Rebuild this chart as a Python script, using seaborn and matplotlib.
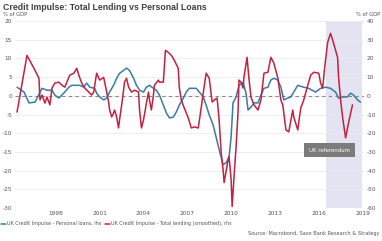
import matplotlib
matplotlib.use("Agg")
import matplotlib.pyplot as plt
import seaborn as sns
import pandas as pd
from matplotlib.lines import Line2D

# ---- data (decimal year, value) ----
personal_years = [1995.34, 1995.82, 1996.16, 1996.57, 1997.05, 1997.39, 1997.73, 1997.93, 1998.20, 1998.41,
                  1998.61, 1998.89, 1999.09, 1999.64, 1999.91, 2000.11, 2000.32, 2000.66, 2000.79, 2001.00,
                  2001.27, 2001.48, 2001.68, 2001.95, 2002.16, 2002.36, 2002.64, 2002.84, 2003.04, 2003.32,
                  2003.52, 2003.73, 2004.00, 2004.20, 2004.41, 2004.68, 2004.88, 2005.09, 2005.36, 2005.57,
                  2005.77, 2006.04, 2006.25, 2006.45, 2006.73, 2006.93, 2007.13, 2007.41, 2007.61, 2007.82,
                  2008.09, 2008.29, 2008.50, 2008.77, 2008.97, 2009.18, 2009.45, 2009.66, 2009.86, 2010.00,
                  2010.13, 2010.34, 2010.54, 2010.82, 2011.02, 2011.16, 2011.36, 2011.57, 2011.84, 2012.04,
                  2012.25, 2012.52, 2012.72, 2012.93, 2013.20, 2013.41, 2013.61, 2013.88, 2014.09, 2014.29,
                  2014.56, 2014.97, 2015.31, 2015.79, 2016.13, 2016.47, 2016.81, 2017.15, 2017.36, 2017.63,
                  2017.97, 2018.18, 2018.38, 2018.66, 2018.86]
personal_vals = [2.3, 1.0, -1.9, -1.7, 2.0, 1.5, 1.5, 0.2, -0.6, 0.2,
                 1.0, 2.3, 2.8, 2.8, 2.3, 3.4, 2.3, 2.0, 0.7, -0.3,
                 -1.1, -0.6, 1.0, 2.8, 4.7, 6.0, 6.8, 7.4, 6.8, 4.7,
                 2.8, 1.5, 1.0, 2.3, 2.8, 2.0, 1.5, 0.2, -2.5, -4.6,
                 -5.9, -5.7, -4.3, -2.5, -0.6, 1.0, 2.0, 2.0, 2.0, 1.0,
                 -0.3, -2.5, -5.1, -7.8, -11.0, -14.4, -18.4, -17.9, -16.3, -11.0,
                 -1.9, -0.3, 2.8, 3.6, 0.7, -3.8, -3.0, -1.9, -1.9, 0.2,
                 2.0, 2.3, 4.2, 4.7, 4.2, 2.3, -1.1, -0.6, -0.3, 1.0,
                 2.8, 2.3, 2.0, 1.0, 2.0, 2.3, 2.0, 1.0, -0.6, -0.3,
                 -0.3, 0.7, 0.2, -1.1, -1.7]

total_years = [1995.34, 1996.02, 1996.50, 1996.84, 1996.91, 1997.05, 1997.25, 1997.39, 1997.59, 1997.73,
               1997.93, 1998.20, 1998.41, 1998.61, 1998.89, 1998.95, 1999.23, 1999.43, 1999.57, 1999.77,
               1999.98, 2000.25, 2000.45, 2000.59, 2000.79, 2001.00, 2001.27, 2001.34, 2001.48, 2001.61,
               2001.68, 2001.82, 2001.95, 2002.02, 2002.16, 2002.29, 2002.36, 2002.57, 2002.70, 2002.84,
               2002.98, 2003.18, 2003.39, 2003.66, 2003.73, 2003.86, 2004.00, 2004.20, 2004.34, 2004.41,
               2004.54, 2004.68, 2004.75, 2005.02, 2005.09, 2005.36, 2005.50, 2005.70, 2005.91, 2006.11,
               2006.38, 2006.45, 2006.59, 2006.79, 2007.07, 2007.27, 2007.48, 2007.75, 2007.95, 2008.09,
               2008.29, 2008.50, 2008.70, 2008.84, 2009.04, 2009.18, 2009.32, 2009.45, 2009.52, 2009.79,
               2009.86, 2010.00, 2010.07, 2010.20, 2010.34, 2010.47, 2010.54, 2010.68, 2010.82, 2010.88,
               2011.09, 2011.22, 2011.36, 2011.57, 2011.84, 2012.04, 2012.25, 2012.52, 2012.72, 2012.93,
               2013.20, 2013.41, 2013.54, 2013.75, 2013.95, 2014.22, 2014.29, 2014.56, 2014.77, 2014.97,
               2015.25, 2015.45, 2015.66, 2016.00, 2016.13, 2016.27, 2016.41, 2016.61, 2016.81, 2017.02,
               2017.29, 2017.36, 2017.50, 2017.63, 2017.84, 2018.04, 2018.31]
total_vals = [-8.7, 21.6, 14.7, 9.4, -2.2, 0.4, -3.9, -0.7, -4.9, 4.1,
              6.8, 7.3, 5.7, 4.6, 9.9, 11.0, 12.1, 14.7, 11.0, 6.8,
              4.1, 2.0, 0.4, 2.0, 12.1, 8.4, 9.9, 7.3, 2.0, -3.3,
              -7.6, -11.3, -9.2, -7.6, -11.3, -17.2, -12.9, -1.2, 7.3, 9.4,
              4.6, 2.0, 3.0, 2.0, -7.6, -17.2, -12.9, -3.9, 2.0, -2.3,
              -7.6, 0.4, 5.7, 8.4, 7.3, 7.3, 24.3, 23.2, 21.6, 19.0,
              14.7, 4.6, -2.3, -6.5, -11.9, -17.2, -16.6, -17.2, -6.5, 1.4,
              12.1, 9.4, -3.3, -2.3, -1.2, -12.9, -30.5, -39.5, -46.4, -34.2,
              -32.6, -44.8, -59.2, -43.2, -27.3, -9.2, 8.4, 7.3, 4.1, 9.9,
              20.6, 9.4, -0.7, -4.9, -7.6, -2.3, 12.1, 12.6, 20.6, 17.4,
              9.4, -2.3, -4.9, -18.2, -19.3, -7.6, -11.3, -18.2, -6.5, -2.3,
              5.7, 11.0, 12.6, 12.1, 6.8, 4.1, 15.3, 28.6, 33.4, 28.0,
              20.6, 9.9, -2.3, -11.3, -22.5, -14.5, -4.9]

tick_years = [1998, 2001, 2004, 2007, 2010, 2013, 2016, 2019]
left_ticks = [20, 15, 10, 5, 0, -5, -10, -15, -20, -25, -30]
right_ticks = [40, 30, 20, 10, 0, -10, -20, -30, -40, -50, -60]
referendum_span = [2016.48, 2018.95]

personal_label = "UK Credit Impulse - Personal loans, lhs"
total_label = "UK Credit Impulse - Total lending (smoothed), rhs"

BLUE = "#3b7aa3"
RED = "#c42140"
TXT = "#555555"

sns.set_theme(style="white")
plt.rcParams["font.family"] = ["DejaVu Sans"]

fig = plt.figure(figsize=(3.82, 2.41), dpi=100)
ax = fig.add_axes([15 / 382, 1 - 208 / 241, (364 - 15) / 382, (208 - 21) / 241])
ax2 = ax.twinx()

df_p = pd.DataFrame({"year": personal_years, "val": personal_vals})
df_t = pd.DataFrame({"year": total_years, "val": total_vals})

ax.axvspan(referendum_span[0], referendum_span[1], color="#e3e3f1", lw=0, zorder=0)
for t in left_ticks:
    ax.axhline(t, color="#ececec", lw=0.6, zorder=0.5)
ax.axhline(0, color="#888888", lw=0.8, ls=(0, (3, 3)), zorder=1)

sns.lineplot(data=df_p, x="year", y="val", ax=ax, color=BLUE, lw=1.1, zorder=3)
sns.lineplot(data=df_t, x="year", y="val", ax=ax2, color=RED, lw=1.1, zorder=3)

ax.set_xlim(1995.2, 2019.1)
ax.set_ylim(-30, 20)
ax2.set_ylim(-60, 40)
ax.set_xticks(tick_years)
ax.set_xticklabels([str(y) for y in tick_years])
ax.set_yticks(left_ticks)
ax.set_yticklabels([str(t) for t in left_ticks])
ax2.set_yticks(right_ticks)
ax2.set_yticklabels([str(t) for t in right_ticks])
for a in (ax, ax2):
    a.set_xlabel("")
    a.set_ylabel("")
    for s in a.spines.values():
        s.set_visible(False)
    a.tick_params(axis="both", length=0, labelsize=4.2, colors=TXT, pad=2)
    a.grid(False)

# annotation
ax2.text(2016.75, -29, "UK referendum", ha="center", va="center", fontsize=3.9, color="white",
         bbox=dict(boxstyle="square,pad=0.9", fc="#7b7b7b", ec="none"), zorder=5)

# titles and notes
fig.text(3 / 382, 1 - 7 / 241, "Credit Impulse: Total Lending vs Personal Loans", fontsize=6.35,
         fontweight="bold", color="#404040", ha="left", va="center", family="Liberation Sans")
fig.text(3 / 382, 1 - 14 / 241, "% of GDP", fontsize=3.8, color=TXT, ha="left", va="center")
fig.text(380 / 382, 1 - 14 / 241, "% of GDP", fontsize=3.8, color=TXT, ha="right", va="center")

handles = [Line2D([], [], color=BLUE, lw=1.1), Line2D([], [], color=RED, lw=1.1)]
fig.legend(handles, [personal_label, total_label], loc="center left", bbox_to_anchor=(0, 1 - 224 / 241),
           ncol=2, frameon=False, fontsize=3.55, handlelength=1.0, handletextpad=0.3, columnspacing=0.6,
           borderaxespad=0, borderpad=0.2, labelcolor=TXT)
fig.text(379 / 382, 1 - 234 / 241, "Source: Macrobond, Saxo Bank Research & Strategy", fontsize=3.6,
         color=TXT, ha="right", va="center")

fig.savefig("out.png", dpi=100)
